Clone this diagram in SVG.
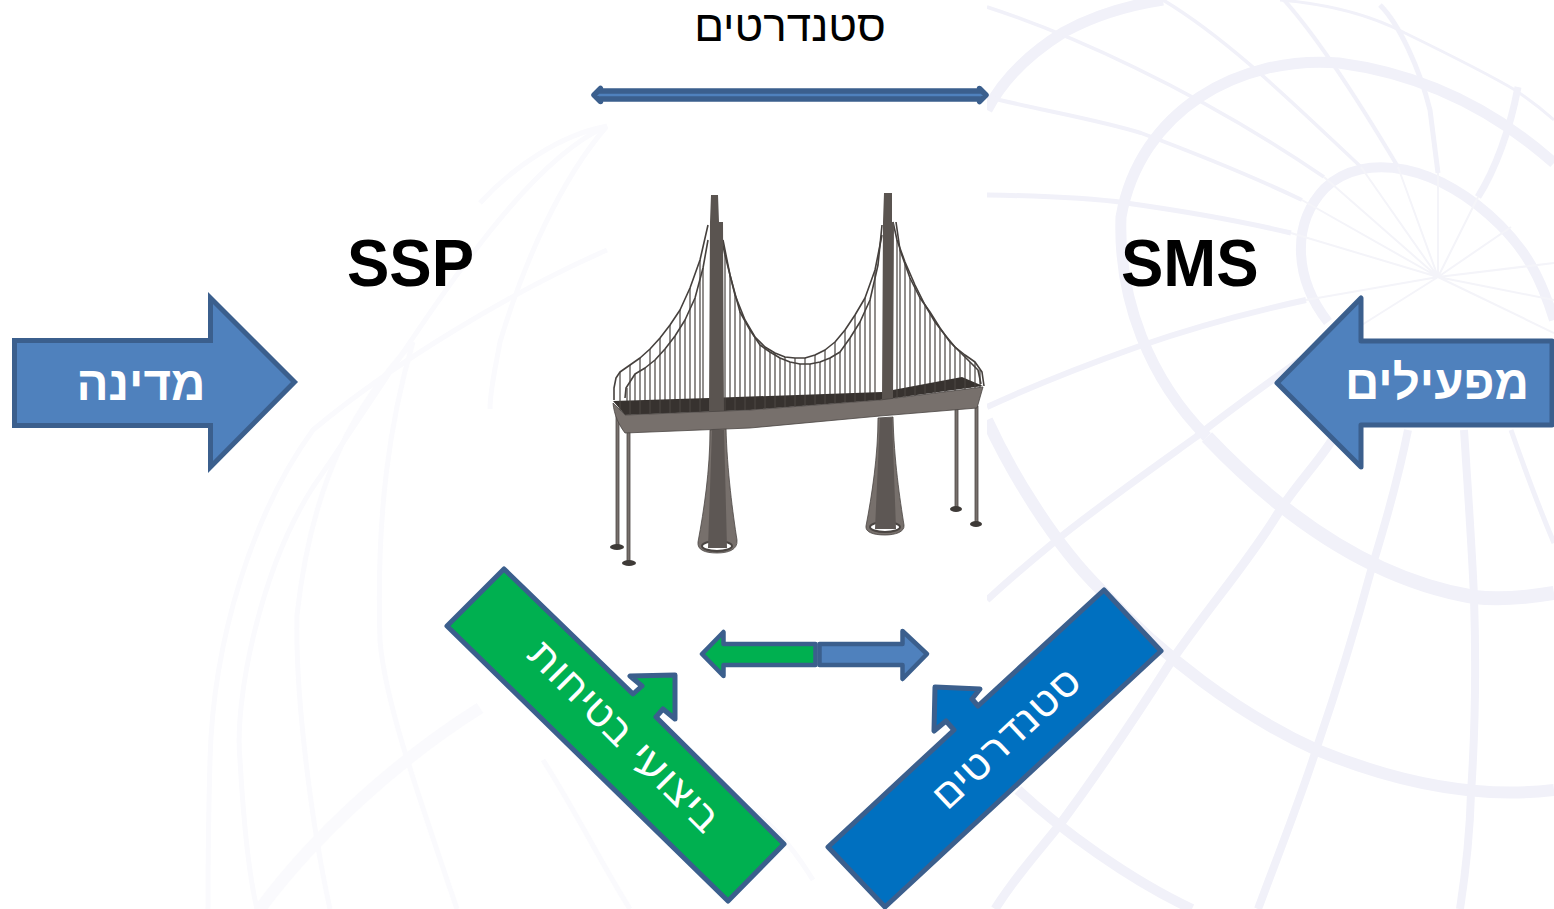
<svg xmlns="http://www.w3.org/2000/svg" width="1554" height="909" viewBox="0 0 1554 909">
<style>
.r{fill:none;stroke:#f1f1f9;stroke-linecap:butt}
.t{fill:none;stroke:#f4f4f9;stroke-width:2}
.l{fill:none;stroke:#fafafd;stroke-width:5}
.b{stroke:#3b5f8d;stroke-linejoin:round}
.ht{font-family:"Liberation Sans",sans-serif;font-weight:700;font-size:47.5px;fill:#fff;text-anchor:middle}
.rt{font-family:"DejaVu Sans",sans-serif;font-size:43px;fill:#fff;text-anchor:middle}
.lat{font-family:"Liberation Sans",sans-serif;font-weight:700;font-size:63.5px;fill:#000}
.m{fill:#77706c;stroke:#4a4542;stroke-width:.8}
.w{fill:none;stroke:#4a4542;stroke-width:1.2}
.c{fill:none;stroke:#45403d;stroke-width:1.6;stroke-linejoin:round}
</style>
<rect width="1554" height="909" fill="#fff"/>
<g id="background-left">
<path class="l" d="M607 126C513 167 413 342 313 487C260 570 234 700 240 760C244 830 250 880 257 909"/>
<path class="l" d="M607 250C513 291 393 363 313 430C253 512 213 640 210 760C208 830 208 880 208 909"/>
<path class="l" d="M607 126C560 180 523 265 500 342C495 370 490 390 490 409"/>
<path class="l" d="M607 126C560 135 513 167 480 203"/>
<path class="l" d="M413 342C390 420 376 512 380 641C385 700 413 780 457 909"/>
<path class="l" d="M413 342C360 400 313 471 297 615C295 700 313 832 330 909"/>
<path class="l" style="stroke-width:12" d="M260 909C313 837 397 760 480 708"/>
<path class="l" d="M543 760C575 810 605 870 630 909"/>
<path class="l" d="M690 800C730 790 770 810 813 880"/>
</g>
<g id="background-right">
<path class="r" style="stroke-width:10" d="M1328 322C1295 280 1290 225 1325 188C1365 150 1440 165 1500 225C1525 250 1540 275 1554 320"/>
<path class="r" style="stroke-width:11" d="M1207 437C1150 380 1118 300 1121 217C1140 110 1240 55 1339 63C1430 75 1500 115 1554 163"/>
<path class="r" style="stroke-width:14" d="M1207 437C1284 518 1372 580 1474 597C1500 600 1530 597 1554 593"/>
<path class="r" style="stroke-width:11" d="M987 110C1005 75 1035 50 1064 32C1095 15 1130 5 1163 0"/>
<path class="r" style="stroke-width:12" d="M987 420C1010 470 1053 543 1101 590C1160 655 1240 715 1317 750C1390 780 1470 800 1554 790"/>
<path class="r" style="stroke-width:10" d="M1018 790C1061 830 1130 880 1192 909"/>
<path class="r" style="stroke-width:3" d="M1280 0C1340 5 1380 20 1405 33C1450 55 1490 75 1515 90C1530 100 1545 112 1554 120"/>
<path class="r" style="stroke-width:5" d="M1380 5C1400 25 1420 70 1430 110L1438 173"/>
<path class="r" style="stroke-width:7" d="M1518 87C1510 130 1495 170 1478 197"/>
<path class="r" style="stroke-width:4" d="M1284 0C1320 40 1370 120 1398 167"/>
<path class="r" style="stroke-width:3.5" d="M1163 0C1230 40 1300 110 1361 167"/>
<path class="r" style="stroke-width:3.5" d="M987 7C1064 32 1192 87 1324 177"/>
<path class="r" style="stroke-width:4" d="M987 97C1040 110 1100 120 1141 133C1200 155 1260 180 1302 200"/>
<path class="r" style="stroke-width:5" d="M987 195C1050 196 1090 198 1126 203C1190 212 1245 222 1291 233"/>
<path class="r" style="stroke-width:6" d="M987 407C1050 378 1100 360 1137 347C1200 325 1260 310 1306 300"/>
<path class="r" style="stroke-width:7" d="M987 600C1020 570 1053 543 1053 543C1100 505 1150 470 1196 437C1230 410 1265 385 1300 360"/>
<path class="r" style="stroke-width:9" d="M995 909C1020 870 1040 850 1061 823C1100 770 1140 710 1170 663C1210 605 1250 560 1280 510C1300 480 1320 460 1332 440"/>
<path class="r" style="stroke-width:8" d="M1258 909C1280 850 1300 800 1317 747C1340 680 1355 630 1372 567C1388 515 1400 470 1408 430"/>
<path class="r" style="stroke-width:8" d="M1460 909C1466 870 1470 830 1471 793C1476 720 1476 660 1474 597C1472 550 1468 490 1464 430"/>
<path class="r" style="stroke-width:5" d="M1511 430C1525 470 1540 510 1554 543"/>
<path class="t" d="M1438 277L1291 233M1438 277L1302 200M1438 277L1324 177M1438 277L1361 167M1438 277L1398 167M1438 277L1438 173M1438 277L1478 197M1438 277L1511 227M1438 277L1554 263M1438 277L1554 300M1438 277L1554 333M1438 277L1306 300M1438 277L1330 345"/>
</g>
<rect x="608" y="0" width="379" height="600" fill="#fff"/>
<g id="bridge">
<path class="m" d="M710 430L726 428C727 470 733 515 737 540C738 550 728 553 717 553C705 553 697 550 698 542C704 510 710 470 710 430Z"/>
<path class="m" d="M878 418L893 417C894 460 900 500 904 525C905 532 895 535 885 535C873 535 865 532 866 526C872 495 878 455 878 418Z"/>
<ellipse cx="717" cy="546" rx="15" ry="5" fill="#fff" stroke="#4a4542" stroke-width="2"/>
<ellipse cx="885" cy="527" rx="15" ry="5" fill="#fff" stroke="#4a4542" stroke-width="2"/>
<path d="M712 430L724 430L727 548L708 548ZM880 418L892 418L896 529L875 529Z" fill="#5d5754"/>
<path class="m" d="M616 413h3v132h-3ZM627 432h3v130h-3ZM955 408h3v100h-3ZM975 406h3v117h-3Z"/>
<ellipse cx="617" cy="547" rx="7" ry="3" fill="#3e3a37"/>
<ellipse cx="629" cy="563" rx="7" ry="3" fill="#3e3a37"/>
<ellipse cx="956" cy="509" rx="6" ry="3" fill="#3e3a37"/>
<ellipse cx="976" cy="524" rx="6" ry="3" fill="#3e3a37"/>
<path class="w" d="M627 388V403M635 374V403M645 368V403M655 360V402M665 349V402M675 336V402M685 320V401M695 298V401M703 268V400M730 275V400M740 312V400M750 330V399M760 345V399M770 352V398M780 358V398M790 362V397M800 364V397M810 364V396M820 362V396M830 358V395M840 352V395M850 338V394M860 322V394M870 300V393M900 250V392M910 278V391M920 298V391M930 312V390M940 328V390M950 342V389M960 352V389M970 362V388M980 370V388"/>
<polyline class="c" points="625,398 626,388 635,374 645,368 655,360 665,349 675,336 685,320 695,298 703,268 708,240"/>
<polyline class="c" points="723,240 730,275 740,312 750,330 760,345 770,352 780,358 790,362 800,364 810,364 820,362 830,358 840,352 850,338 860,322 870,300 878,265 882,225"/>
<polyline class="c" points="896,222 900,250 910,278 920,298 930,312 940,328 950,342 960,352 970,362 978,370 981,384"/>
<path d="M613 401L709 398L882 392L962 377L983 386L880 400L750 410L625 415Z" fill="#37322f"/>
<path class="w" d="M620 372V412M630 365V415M640 358V414M650 349V414M660 338V413M670 325V413M680 310V412M690 288V412M700 260V412M725 255V411M735 295V410M745 320V410M755 337V409M765 347V409M775 353V408M785 357V407M795 358V407M805 358V406M815 355V405M825 350V404M835 342V403M845 330V402M855 315V402M865 298V401M875 270V400M897 240V398M905 262V397M915 285V396M925 305V395M935 322V393M945 335V392M955 347V391M965 355V390M975 362V388"/>
<polyline class="c" points="614,400 614,388 616,378 620,372 630,365 640,358 650,349 660,338 670,325 680,310 690,288 700,260 708,225"/>
<polyline class="c" points="720,232 725,255 735,295 745,320 755,337 765,347 775,353 785,357 795,358 805,358 815,355 825,350 835,342 845,330 855,315 865,298 875,270 882,235"/>
<polyline class="c" points="893,222 897,240 905,262 915,285 925,305 935,322 945,335 955,347 965,355 975,362 982,372 984,386"/>
<path d="M711 195H718L719 222H723L724 415H709L710 222Z" fill="#5a5450"/>
<path d="M884 193H892V222H894L893 402H882L883 222Z" fill="#5a5450"/>
<path class="m" d="M613 403L625 415L750 410L880 400L983 387L977 408L880 416L750 428L625 433C619 425 614 415 613 403Z"/>
</g>
<g id="top-label">
<text x="790" y="41" style="font-family:'Liberation Sans',sans-serif;font-size:44px;text-anchor:middle;fill:#000">סטנדרטים</text>
</g>
<g id="ssp"><text class="lat" transform="translate(347,286) scale(1,1.05)">SSP</text></g>
<g id="sms"><text class="lat" transform="translate(1121,286) scale(1,1.05)">SMS</text></g>
<g id="connectors">
<polygon id="top-arrow" class="b" style="stroke-width:5.5" fill="#4f81bd" points="594,95 600.5,88.5 600.5,91 979.5,91 979.5,88.5 986,95 979.5,101.5 979.5,99 600.5,99 600.5,101.5"/>
<polygon id="center-left" class="b" style="stroke-width:4.5" fill="#00b050" points="702,654 723.5,632 723.5,644 815.5,644 815.5,665 723.5,665 723.5,676"/>
<polygon id="center-right" class="b" style="stroke-width:4.5" fill="#4f81bd" points="819.5,644 902.5,644 902.5,631 927,654 902.5,679 902.5,665 819.5,665"/>
</g>
<g id="state">
<polygon style="stroke:#3b5f8d;stroke-width:5;stroke-linejoin:miter" fill="#4f81bd" points="14.5,340.5 210.5,340.5 210.5,298 294.5,382 210.5,467 210.5,425.5 14.5,425.5"/>
<text class="ht" x="141" y="400">מדינה</text>
</g>
<g id="operators">
<polygon class="b" style="stroke-width:5" fill="#4f81bd" points="1277,383 1361,298 1361,341 1552,341 1552,425 1361,425 1361,467"/>
<text class="ht" x="1437" y="399">מפעילים</text>
</g>
<g id="safety-performance">
<polygon class="b" style="stroke-width:5" fill="#00b050" points="504,569 633,694 642,686 630,676 675,675 675,719 663,709 656,717 784,844 728,901 447,626"/>
<text class="rt" transform="translate(615,746) rotate(45)">ביצועי בטיחות</text>
</g>
<g id="standards">
<polygon class="b" style="stroke-width:5" fill="#0070c0" points="1104,590 1161,651 885,907 828,847 954,730 946,721 934,731 935,687 980,689 972,699 978,706"/>
<text class="rt" transform="translate(1015,748) rotate(-43)">סטנדרטים</text>
</g>
</svg>
